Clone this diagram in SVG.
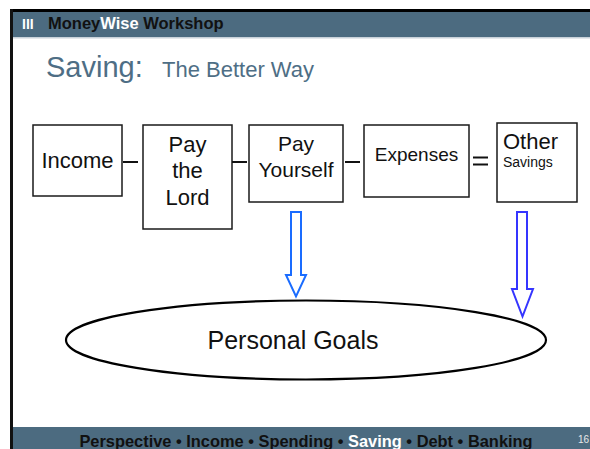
<svg xmlns="http://www.w3.org/2000/svg" width="590" height="449" viewBox="0 0 590 449">
<style>
.bx{fill:#fff;stroke:#1a1a1a;stroke-width:1.5}
.t{font-family:"Liberation Sans",Arial,sans-serif;fill:#111}
.c{stroke:#111;stroke-width:2}
</style>
<rect width="590" height="449" fill="#fff"/>
<rect x="10" y="9" width="580" height="3" fill="#000"/>
<rect x="10" y="9" width="3" height="440" fill="#111"/>
<rect x="13" y="12" width="577" height="25" fill="#4c6b80"/>
<rect x="13" y="37" width="577" height="1.5" fill="#c9d2da"/>
<text x="22" y="29" font-family="Liberation Sans,Arial,sans-serif" font-weight="bold" font-size="14" fill="#fff">III</text>
<text x="48" y="29" font-family="Liberation Sans,Arial,sans-serif" font-weight="bold" font-size="16.5" fill="#111">Money<tspan fill="#fff">Wise</tspan> Workshop</text>
<text x="46" y="77" font-family="Liberation Sans,Arial,sans-serif" font-size="29" fill="#4e6e85">Saving:<tspan x="162" font-size="22">The Better Way</tspan></text>

<g id="income"><rect class="bx" x="33" y="125" width="89" height="71"/><text class="t" x="77.5" y="168" font-size="22" text-anchor="middle">Income</text></g>
<g id="pay-lord"><rect class="bx" x="143" y="125" width="89" height="104"/><text class="t" font-size="22" text-anchor="middle"><tspan x="187.5" y="152">Pay</tspan><tspan x="187.5" y="178">the</tspan><tspan x="187.5" y="205">Lord</tspan></text></g>
<g id="pay-yourself"><rect class="bx" x="249" y="125" width="94" height="77"/><text class="t" font-size="21" text-anchor="middle"><tspan x="296" y="151">Pay</tspan><tspan x="296" y="177">Yourself</tspan></text></g>
<g id="expenses"><rect class="bx" x="364" y="125" width="105" height="72"/><text class="t" x="416.5" y="161" font-size="19" text-anchor="middle">Expenses</text></g>
<g id="other-savings"><rect class="bx" x="497" y="123" width="80" height="79"/><text class="t" x="503" y="149" font-size="22">Other</text><text class="t" x="503" y="167" font-size="14">Savings</text></g>
<g id="personal-goals"><ellipse cx="306" cy="340" rx="240" ry="39.5" fill="#fff" stroke="#000" stroke-width="2.2"/><text class="t" x="293" y="349" font-size="25" text-anchor="middle">Personal Goals</text></g>

<g id="connectors">
<line class="c" x1="123" y1="162" x2="138" y2="162"/>
<line class="c" x1="232" y1="162" x2="247" y2="162"/>
<line class="c" x1="345" y1="162" x2="360" y2="162"/>
<line class="c" x1="473" y1="157.5" x2="488" y2="157.5"/>
<line class="c" x1="473" y1="164.5" x2="488" y2="164.5"/>
<polygon points="291,212 301,212 301,275 306,275 296,296.5 286,275 291,275" fill="#fff" stroke="#1a6cff" stroke-width="2"/>
<polygon points="517,212 527,212 527,289 533,289 522.5,316.5 512,289 517,289" fill="#fff" stroke="#3535ff" stroke-width="2"/>
</g>

<rect x="13" y="427" width="577" height="22" fill="#4c6b80"/>
<text x="306" y="447" font-family="Liberation Sans,Arial,sans-serif" font-weight="bold" font-size="16.4" fill="#111" text-anchor="middle">Perspective • Income • Spending • <tspan fill="#fff">Saving</tspan> • Debt • Banking</text>
<text x="578" y="443" font-family="Liberation Sans,Arial,sans-serif" font-size="10" fill="#e8e8e8">16</text>
</svg>
